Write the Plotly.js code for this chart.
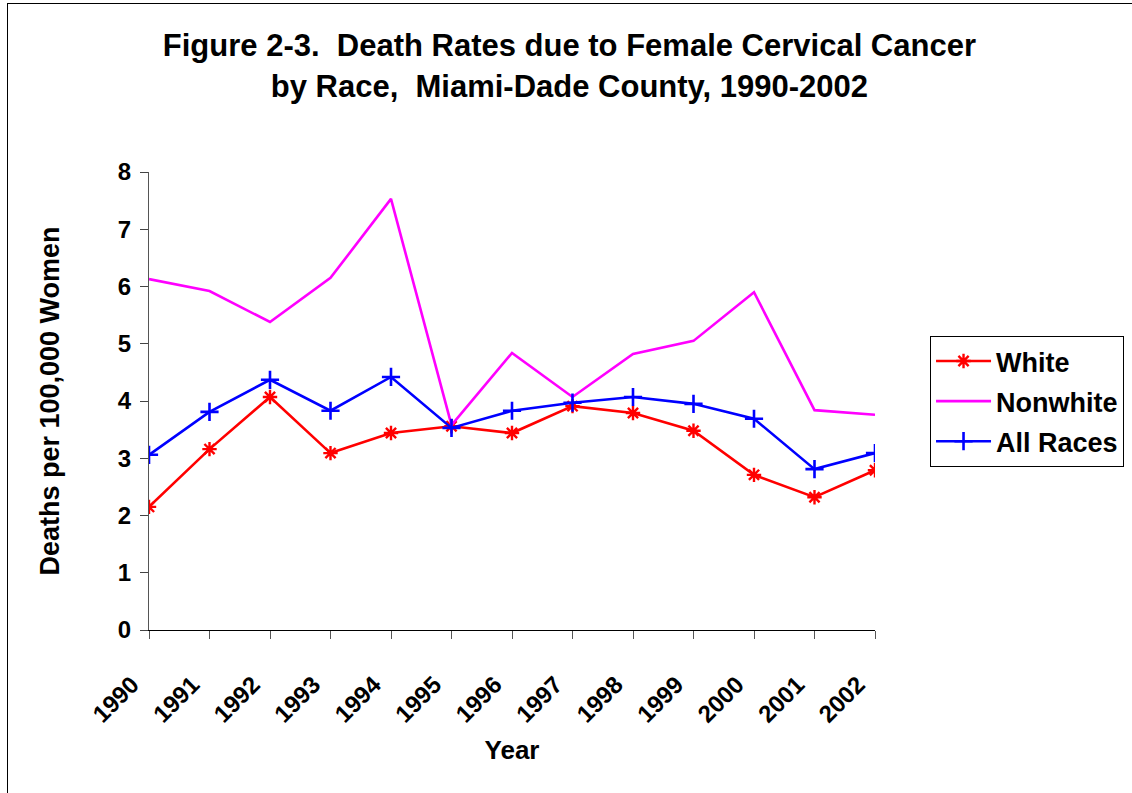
<!DOCTYPE html>
<html>
<head>
<meta charset="utf-8">
<script src="https://cdn.plot.ly/plotly-3.0.1.min.js"></script>
<style>
html,body{margin:0;padding:0;background:#fff;}
#wrap{position:relative;width:1132px;height:793px;overflow:hidden;}
#frame{position:absolute;left:7px;top:3px;width:1140px;height:800px;border-left:1px solid #000;border-top:1px solid #000;pointer-events:none;z-index:5;}
#chart{position:absolute;left:0;top:0;width:1132px;height:793px;}
</style>
</head>
<body>
<div id="wrap"><div id="chart"></div><div id="frame"></div></div>
<script>
const years = [1990,1991,1992,1993,1994,1995,1996,1997,1998,1999,2000,2001,2002];
const yearLabels = ["1990","1991","1992","1993","1994","1995","1996","1997","1998","1999","2000","2001","2002"];
const white    = [2.15,3.16,4.07,3.09,3.44,3.56,3.44,3.91,3.79,3.48,2.71,2.32,2.79];
const nonwhite = [6.13,5.92,5.38,6.15,7.53,3.58,4.84,4.07,4.82,5.05,5.90,3.84,3.76];
const allRaces = [3.06,3.81,4.37,3.83,4.42,3.53,3.83,3.97,4.07,3.95,3.69,2.81,3.09];
const seriesNames = ["White","Nonwhite","All Races"];

const F = "Liberation Sans, Arial, sans-serif";
const traces = [
  {x: years, y: white, name: seriesNames[0], legendgroup: "a", type: "scatter", mode: "lines+markers",
   line: {color: "#FF0000", width: 2.6},
   marker: {symbol: "asterisk-open", size: 12, color: "#FF0000", line: {color: "#FF0000", width: 2.4}}},
  {x: years, y: nonwhite, name: seriesNames[1], legendgroup: "b", type: "scatter", mode: "lines",
   line: {color: "#FF00FF", width: 2.6}},
  {x: years, y: allRaces, name: seriesNames[2], legendgroup: "c", type: "scatter", mode: "lines+markers",
   line: {color: "#0000FF", width: 2.6},
   marker: {symbol: "cross-thin-open", size: 13, color: "#0000FF", line: {color: "#0000FF", width: 2.6}}}
];

const layout = {
  width: 1132, height: 793,
  margin: {l: 149, r: 257, t: 172, b: 163, pad: 0, autoexpand: false},
  paper_bgcolor: "#fff", plot_bgcolor: "#fff",
  font: {family: F, color: "#000"},
  title: {
    text: "<b>Figure 2-3.  Death Rates due to Female Cervical Cancer<br>by Race,  Miami-Dade County, 1990-2002</b>",
    font: {family: F, size: 31, color: "#000"},
    x: 0.503, xanchor: "center", y: 0.929, yanchor: "middle", yref: "container"
  },
  xaxis: {
    range: [1990, 2002], tickmode: "array", tickvals: years, ticktext: yearLabels,
    tickangle: -45, ticks: "outside", ticklen: 8, tickcolor: "#555", tickwidth: 1,
    ticklabelstandoff: 22, ticklabelshift: -17,
    showline: true, linecolor: "#000", linewidth: 1, showgrid: false, zeroline: false,
    tickfont: {family: F, size: 24, color: "#000", weight: "bold"},
    title: {text: "<b>Year</b>", font: {family: F, size: 26, color: "#000"}, standoff: 14}
  },
  yaxis: {
    range: [0, 8], dtick: 1, tick0: 0, ticks: "outside", ticklen: 8, tickcolor: "#444",
    ticklabelstandoff: 4,
    showline: true, linecolor: "#555", linewidth: 1, showgrid: false, zeroline: false,
    tickfont: {family: F, size: 24, color: "#000", weight: "bold"},
    title: {text: "<b>Deaths per 100,000 Women</b>", font: {family: F, size: 27, color: "#000"}, standoff: 50}
  },
  legend: {
    x: 1.0758, xanchor: "left", y: 0.642, yanchor: "top",
    bordercolor: "#000", borderwidth: 1, bgcolor: "#fff",
    font: {family: F, size: 27, color: "#000", weight: "bold"},
    traceorder: "grouped", tracegroupgap: 2, itemwidth: 55
  },
  showlegend: true
};

Plotly.newPlot("chart", traces, layout, {displayModeBar: false, staticPlot: true});
</script>
</body>
</html>
